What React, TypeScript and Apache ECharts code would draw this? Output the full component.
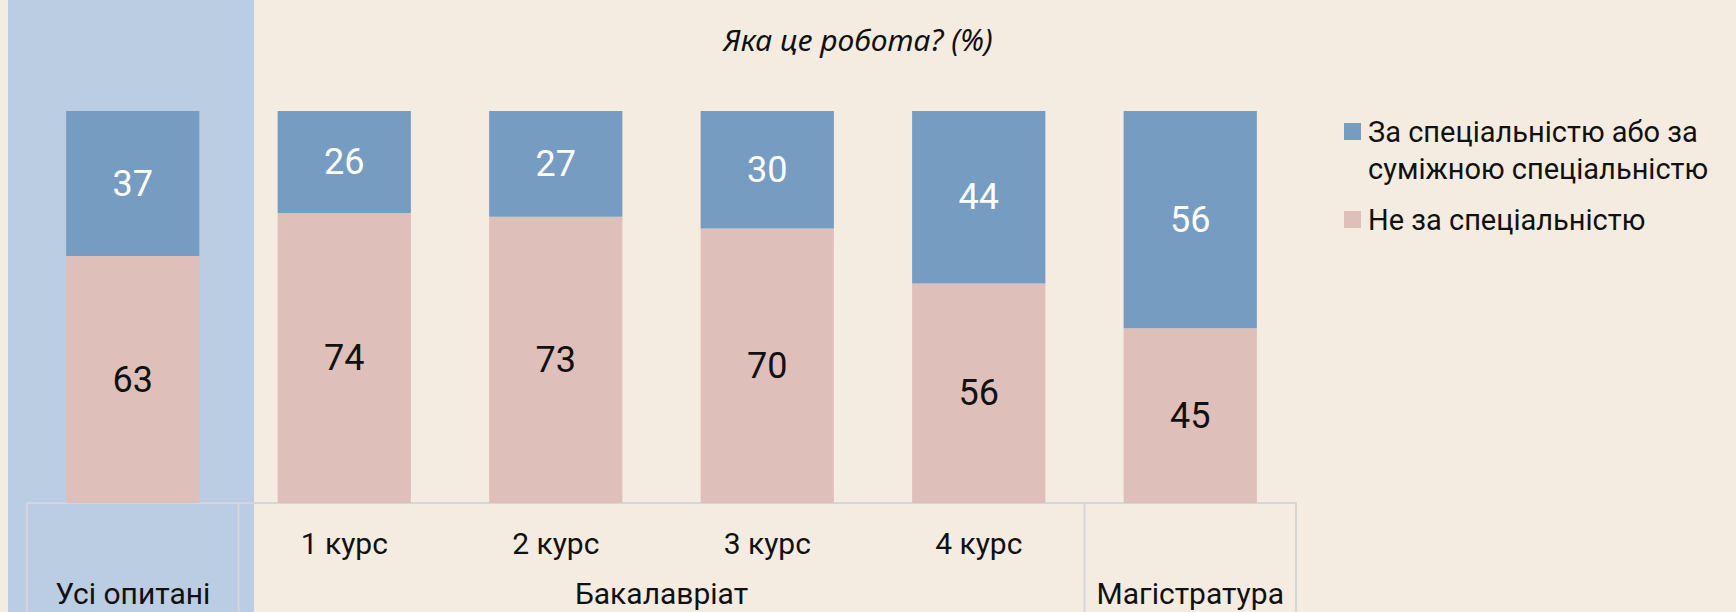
import React, { useEffect, useRef } from "react";
import * as echarts from "echarts";

const categories = ["Усі опитані", "1 курс", "2 курс", "3 курс", "4 курс", "Магістратура"];
const courseLabels = ["", "1 курс", "2 курс", "3 курс", "4 курс", ""];
const groupNames = ["Усі опитані", "Бакалавріат", "Магістратура"];
const groupSpans = [1, 4, 1];
const seriesNames = ["За спеціальністю або за\nсуміжною спеціальністю", "Не за спеціальністю"];
const bySpecialty = [37, 26, 27, 30, 44, 56];
const notBySpecialty = [63, 74, 73, 70, 56, 45];
const titleText = "Яка це робота? (%)";

const BG = "#F5ECE1";
const BAND = "#BBCDE2";
const BLUE = "#769CC2";
const PINK = "#DFBFBA";
const LINE = "#D6D6D6";
const FONT = "Roboto";

export default function App() {
  const ref = useRef<HTMLDivElement>(null);
  useEffect(() => {
    if (!ref.current) return;
    const chart = echarts.init(ref.current, null, { renderer: "svg" });
    const totals = bySpecialty.map((v, i) => v + notBySpecialty[i]);
    const pctA = bySpecialty.map((v, i) => ({ value: (v / totals[i]) * 100, raw: v }));
    const pctB = notBySpecialty.map((v, i) => ({ value: (v / totals[i]) * 100, raw: v }));
    chart.setOption({
      animation: false,
      backgroundColor: BG,
      title: {
        text: titleText,
        left: 853,
        top: 19,
        textAlign: "center",
        textStyle: { fontFamily: "Noto Sans", fontStyle: "italic", fontWeight: "normal", fontSize: 30, color: "#111" },
      },
      grid: { left: 27, right: 440, top: 111, bottom: 109, containLabel: false },
      xAxis: {
        type: "category",
        data: categories,
        axisLine: { show: true, lineStyle: { color: LINE, width: 2 } },
        axisTick: { show: false },
        axisLabel: {
          formatter: (_v: string, i: number) => courseLabels[i],
          margin: 25,
          fontFamily: FONT,
          fontSize: 30,
          lineHeight: 30,
          color: "#111",
        },
      },
      yAxis: { type: "value", min: 0, max: 100, show: false, splitLine: { show: false } },
      series: [
        {
          name: seriesNames[1],
          type: "bar",
          stack: "s",
          data: pctB,
          barCategoryGap: "37%",
          itemStyle: { color: PINK },
          label: {
            show: true,
            position: "inside",
            formatter: (p: any) => String(p.data.raw),
            fontFamily: FONT,
            fontSize: 36,
            color: "#111",
          },
          z: 3,
        },
        {
          name: seriesNames[0],
          type: "bar",
          stack: "s",
          data: pctA,
          barCategoryGap: "37%",
          itemStyle: { color: BLUE },
          label: {
            show: true,
            position: "inside",
            formatter: (p: any) => String(p.data.raw),
            fontFamily: FONT,
            fontSize: 36,
            color: "#fff",
          },
          z: 3,
        },
      ],
    });

    const c0 = chart.convertToPixel({ xAxisIndex: 0 }, 0) as number;
    const c1 = chart.convertToPixel({ xAxisIndex: 0 }, 1) as number;
    const band = c1 - c0;
    const bx = (k: number) => c0 - band / 2 + k * band;
    const yb = chart.convertToPixel({ yAxisIndex: 0 }, 0) as number;
    const H = chart.getHeight();

    const graphics: any[] = [
      { type: "rect", z: -10, shape: { x: 8, y: 0, width: 246, height: H }, style: { fill: BAND } },
    ];
    let start = 0;
    const bounds = [0];
    groupSpans.forEach((span, gi) => {
      const end = start + span;
      bounds.push(end);
      graphics.push({
        type: "text",
        z: 5,
        x: (bx(start) + bx(end)) / 2,
        y: 593,
        style: {
          text: groupNames[gi],
          fontFamily: FONT,
          fontSize: 30,
          fill: "#111",
          align: "center",
          verticalAlign: "middle",
        },
      });
      start = end;
    });
    bounds.forEach((k) => {
      graphics.push({
        type: "line",
        z: 5,
        shape: { x1: bx(k), y1: yb, x2: bx(k), y2: H },
        style: { stroke: LINE, lineWidth: 2 },
      });
    });
    // legend
    graphics.push(
      { type: "rect", shape: { x: 1344, y: 123, width: 17, height: 17 }, style: { fill: BLUE } },
      {
        type: "text",
        x: 1368,
        y: 113,
        style: {
          text: seriesNames[0],
          fontFamily: FONT,
          fontSize: 29,
          lineHeight: 37,
          fill: "#111",
          align: "left",
          verticalAlign: "top",
        },
      },
      { type: "rect", shape: { x: 1344, y: 211, width: 17, height: 17 }, style: { fill: PINK } },
      {
        type: "text",
        x: 1368,
        y: 201,
        style: {
          text: seriesNames[1],
          fontFamily: FONT,
          fontSize: 29,
          lineHeight: 37,
          fill: "#111",
          align: "left",
          verticalAlign: "top",
        },
      }
    );
    chart.setOption({ graphic: graphics });
    return () => chart.dispose();
  }, []);
  return (
    <div
      ref={ref}
      style={{ position: "fixed", left: 0, top: 0, width: 1736, height: 612 }}
    />
  );
}
